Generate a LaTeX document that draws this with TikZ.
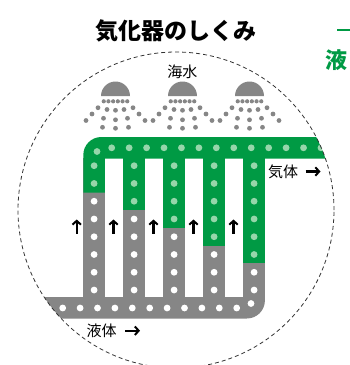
\documentclass[tikz,border=0pt]{standalone}
\usepackage{fontspec}
\usetikzlibrary{arrows.meta}
\newfontfamily\cjk{Noto Sans CJK JP}
\definecolor{pipegreen}{RGB}{0,154,68}
\definecolor{dotgreen}{RGB}{150,214,170}
\definecolor{pipegray}{RGB}{134,134,134}
\definecolor{ringgray}{RGB}{50,50,50}
\begin{document}
\begin{tikzpicture}[x=1pt,y=-1pt,
  ring/.style={draw=ringgray, line width=0.8pt, dash pattern=on 4pt off 3pt},
  flow/.style={line width=2.1pt, black, -{Straight Barb[length=3.8pt,width=8.5pt,line width=2pt]}},
  cjklabel/.style={font=\cjk\fontsize{15}{15}\selectfont, inner sep=0pt, anchor=base west},
  hole/.style={radius=3.4pt},
  spray/.style={pipegray}]
\useasboundingbox (0,0) rectangle (349,365);

% evaporator tubes, cut off at the ring
\begin{scope}
  \clip (176,210) circle[radius=158pt];
  % liquid header and lower tube parts
  \foreach \k in {0,...,4}
    \fill[pipegray] (83.3+40*\k,158) rectangle (104.9+40*\k,298);
  \fill[pipegray] (-20,297) -- (264.9,297) -- (264.9,300.5)
    .. controls (264.9,310.44) and (256.84,318.5) .. (246.9,318.5)
    -- (-20,318.5) -- cycle;
  % gas header and vaporised tube parts
  \fill[pipegreen] (83.3,192.7) -- (83.3,155)
    .. controls (83.3,145.06) and (91.36,137) .. (101.3,137)
    -- (360,137) -- (360,158.5) -- (104.9,158.5) -- (104.9,192.7) -- cycle;
  \foreach \k in {1,...,4}
    \fill[pipegreen] (83.3+40*\k,158) rectangle (104.9+40*\k,192.7+17.6*\k);
  % bubbles along the gas header
  \fill[dotgreen] (97,151.5) circle[hole];
  \foreach \i in {0,...,12}
    \fill[dotgreen] (111.7+17.44*\i,147.8) circle[hole];
  % bubbles in the tubes
  \foreach \k in {0,...,4}{
    \foreach \j in {0,...,7}{
      \pgfmathtruncatemacro\isgas{(\j<=\k+1)}
      \ifnum\isgas=1 \def\dotcol{dotgreen}\else\def\dotcol{white}\fi
      \fill[\dotcol] (94.1+40*\k,165.7+17.76*\j) circle[hole];
    }
  }
  % bubbles along the liquid header
  \foreach \i in {0,...,10}
    \fill[white] (62.7+17.4*\i,308) circle[hole];
  \fill[white] (251,303.5) circle[hole];
\end{scope}

% sea water sprinklers
\foreach \cx in {115.5,182.5,249.5}{
  \fill[pipegray] (\cx-14.5,96) .. controls (\cx-14.5,88) and (\cx-8,81.5) .. (\cx,81.5)
    .. controls (\cx+8,81.5) and (\cx+14.5,88) .. (\cx+14.5,96) -- cycle;
  \foreach \dx in {-11.75,-7.05,-2.35,2.35,7.05,11.75}
    \fill[spray] (\cx+\dx,101.3) circle[radius=2.1pt];
  \foreach \dx/\yy in {-17.5/107.7,-8.5/109.5,0/110.3,8.5/109.5,17.5/107.7,
                       -23.5/114,23.5/114,-12/118.3,0/119.8,12/118.3,
                       -29.5/120.5,29.5/120.5,-13/127.3,0/128.3,13/127.3}
    \fill[spray] (\cx+\dx,\yy) circle[radius=2.4pt];
}

% dashed outline
\draw[ring] (176,210) circle[radius=158pt];

% rising flow between the tubes
\foreach \x [count=\i] in {76.7,113.5,153.5,193.5,233.5}{
  \coordinate (ua\i) at (\x,233.5);
  \coordinate (ub\i) at (\x,219.5);
  \draw[flow] (ua\i) -- (ub\i);
}

% labels
\node[font=\cjk\bfseries\fontsize{23}{23}\selectfont, inner sep=0pt, anchor=base] (title) at (176,39) {気化器のしくみ};
\node[cjklabel, anchor=base] (sea) at (182.3,77.5) {海水};
\node[cjklabel] (gas) at (268,177.3) {気体};
\node[cjklabel] (liq) at (86.5,336.5) {液体};
\coordinate (ga) at (305.5,171.5);
\coordinate (gb) at (320.5,171.5);
\draw[flow] (ga) -- (gb);
\coordinate (la) at (125,330.7);
\coordinate (lb) at (140,330.7);
\draw[flow] (la) -- (lb);

% edge of the neighbouring heading
\fill[pipegreen] (337,28.7) rectangle (350,31);
\node[font=\cjk\bfseries\fontsize{22}{22}\selectfont, text=pipegreen, inner sep=0pt, anchor=base west] (side) at (325,68) {液};
\end{tikzpicture}
\end{document}
